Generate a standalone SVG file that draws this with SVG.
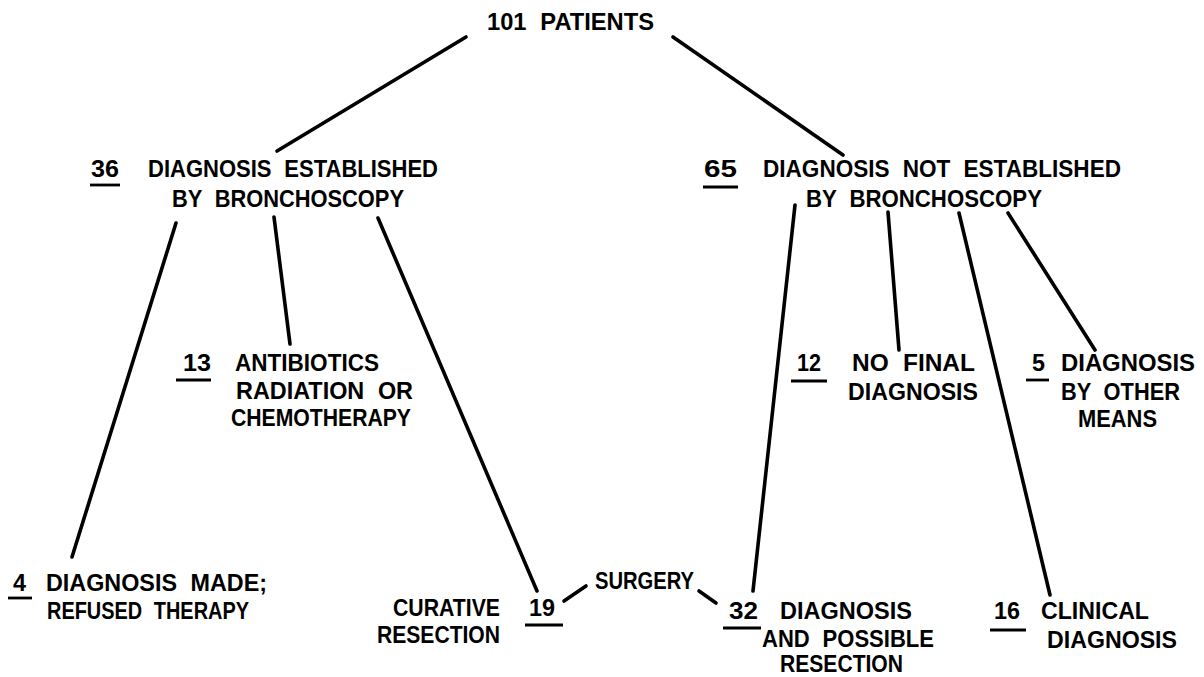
<svg xmlns="http://www.w3.org/2000/svg" width="1204" height="677" viewBox="0 0 1204 677">
<style>
text{font-family:"Liberation Sans",Arial,sans-serif;font-weight:bold;font-size:23px;fill:#000;word-spacing:7px}
.c line{stroke:#000;stroke-width:3.6;stroke-linecap:round}
.u{stroke:#000;stroke-width:2.8}
</style>
<rect width="1204" height="677" fill="#fff"/>
<g class="c" id="connectors">
<line x1="466" y1="37" x2="277" y2="151"/>
<line x1="673" y1="37" x2="843" y2="155"/>
<line x1="176" y1="223" x2="72" y2="557"/>
<line x1="274" y1="217" x2="290" y2="344"/>
<line x1="378" y1="218" x2="537" y2="591"/>
<line x1="795" y1="205" x2="753" y2="591"/>
<line x1="888" y1="212" x2="899" y2="350"/>
<line x1="959" y1="213" x2="1050" y2="595"/>
<line x1="1008" y1="213" x2="1095" y2="350"/>
<line x1="564" y1="601" x2="586" y2="586"/>
<line x1="699" y1="591" x2="716" y2="603"/>
</g>
<g id="n101">
<text x="487" y="30" textLength="167" lengthAdjust="spacingAndGlyphs">101 PATIENTS</text>
</g>
<g id="n36">
<text x="91" y="177" textLength="28" lengthAdjust="spacingAndGlyphs">36</text>
<line class="u" x1="90" y1="185" x2="120" y2="185"/>
<text x="148" y="177" textLength="290" lengthAdjust="spacingAndGlyphs">DIAGNOSIS ESTABLISHED</text>
<text x="172" y="207" textLength="232" lengthAdjust="spacingAndGlyphs">BY BRONCHOSCOPY</text>
</g>
<g id="n65">
<text x="704" y="177" textLength="33" lengthAdjust="spacingAndGlyphs">65</text>
<line class="u" x1="703" y1="187" x2="738" y2="187"/>
<text x="763" y="177" textLength="358" lengthAdjust="spacingAndGlyphs">DIAGNOSIS NOT ESTABLISHED</text>
<text x="806" y="207" textLength="236" lengthAdjust="spacingAndGlyphs">BY BRONCHOSCOPY</text>
</g>
<g id="n13">
<text x="183" y="371" textLength="28" lengthAdjust="spacingAndGlyphs">13</text>
<line class="u" x1="176" y1="380" x2="211" y2="380"/>
<text x="235" y="371" textLength="144" lengthAdjust="spacingAndGlyphs">ANTIBIOTICS</text>
<text x="236" y="399" textLength="177" lengthAdjust="spacingAndGlyphs">RADIATION OR</text>
<text x="231" y="426" textLength="180" lengthAdjust="spacingAndGlyphs">CHEMOTHERAPY</text>
</g>
<g id="n4">
<text x="13" y="591" textLength="13" lengthAdjust="spacingAndGlyphs">4</text>
<line class="u" x1="8" y1="598" x2="32" y2="598"/>
<text x="46" y="591" textLength="221" lengthAdjust="spacingAndGlyphs">DIAGNOSIS MADE;</text>
<text x="47" y="619" textLength="202" lengthAdjust="spacingAndGlyphs">REFUSED THERAPY</text>
</g>
<g id="n19">
<text x="393" y="616" textLength="107" lengthAdjust="spacingAndGlyphs">CURATIVE</text>
<text x="377" y="643" textLength="123" lengthAdjust="spacingAndGlyphs">RESECTION</text>
<text x="529" y="616" textLength="26" lengthAdjust="spacingAndGlyphs">19</text>
<line class="u" x1="525" y1="625" x2="563" y2="625"/>
</g>
<g id="surgery">
<text x="595" y="589" textLength="99" lengthAdjust="spacingAndGlyphs">SURGERY</text>
</g>
<g id="n32">
<text x="729" y="619" textLength="29" lengthAdjust="spacingAndGlyphs">32</text>
<line class="u" x1="723" y1="628" x2="761" y2="628"/>
<text x="780" y="619" textLength="132" lengthAdjust="spacingAndGlyphs">DIAGNOSIS</text>
<text x="762" y="647" textLength="172" lengthAdjust="spacingAndGlyphs">AND POSSIBLE</text>
<text x="780" y="672" textLength="123" lengthAdjust="spacingAndGlyphs">RESECTION</text>
</g>
<g id="n12">
<text x="797" y="371" textLength="24" lengthAdjust="spacingAndGlyphs">12</text>
<line class="u" x1="791" y1="381" x2="827" y2="381"/>
<text x="852" y="371" textLength="123" lengthAdjust="spacingAndGlyphs">NO FINAL</text>
<text x="848" y="400" textLength="130" lengthAdjust="spacingAndGlyphs">DIAGNOSIS</text>
</g>
<g id="n5">
<text x="1032" y="371" textLength="13" lengthAdjust="spacingAndGlyphs">5</text>
<line class="u" x1="1026" y1="380" x2="1049" y2="380"/>
<text x="1061" y="371" textLength="134" lengthAdjust="spacingAndGlyphs">DIAGNOSIS</text>
<text x="1061" y="400" textLength="119" lengthAdjust="spacingAndGlyphs">BY OTHER</text>
<text x="1078" y="427" textLength="79" lengthAdjust="spacingAndGlyphs">MEANS</text>
</g>
<g id="n16">
<text x="994" y="619" textLength="26" lengthAdjust="spacingAndGlyphs">16</text>
<line class="u" x1="990" y1="630" x2="1026" y2="630"/>
<text x="1041" y="619" textLength="108" lengthAdjust="spacingAndGlyphs">CLINICAL</text>
<text x="1047" y="648" textLength="130" lengthAdjust="spacingAndGlyphs">DIAGNOSIS</text>
</g>
</svg>
